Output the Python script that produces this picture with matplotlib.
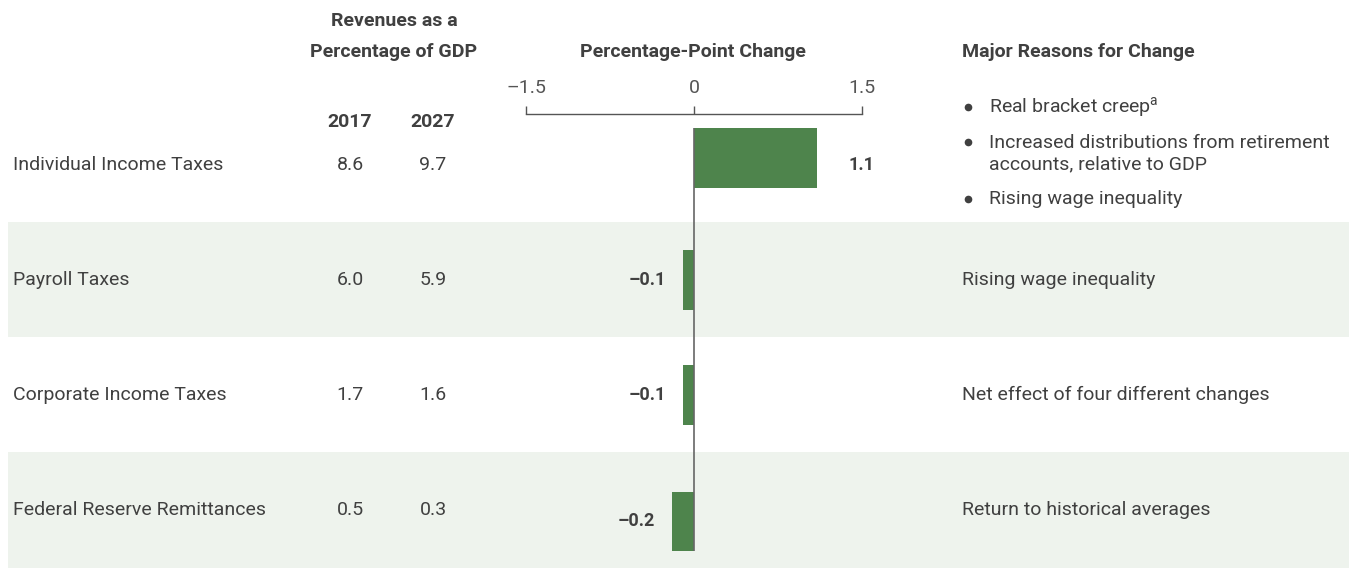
import matplotlib
matplotlib.use("Agg")
import matplotlib.pyplot as plt

plt.rcParams['font.family'] = ['Roboto', 'DejaVu Sans']
plt.rcParams['mathtext.fontset'] = 'custom'
plt.rcParams['mathtext.rm'] = 'Roboto'

categories = ['Individual Income Taxes', 'Payroll Taxes', 'Corporate Income Taxes',
              'Federal Reserve Remittances']
rev_2017 = [8.6, 6.0, 1.7, 0.5]
rev_2027 = [9.7, 5.9, 1.6, 0.3]
change = [1.1, -0.1, -0.1, -0.2]
change_labels = ['1.1', '\u20130.1', '\u20130.1', '\u20130.2']
reasons = [None, 'Rising wage inequality', 'Net effect of four different changes',
           'Return to historical averages']
bullets = ['Real bracket creep$^\\mathrm{a}$',
           'Increased distributions from retirement\naccounts, relative to GDP',
           'Rising wage inequality']
ticks = [-1.5, 0, 1.5]
tick_labels = ['\u20131.5', '0', '1.5']

W, H = 1349, 568
txt = '#404040'
green = '#4e844c'
band = '#eef3ed'
# small vertical shifts of the bars within their rows (layout)
bar_shift = [-0.06, 0.0, 0.0, 0.10]

fig = plt.figure(figsize=(W / 100, H / 100), dpi=100)

# background axes, rows in index units (row center px = 165 + 115*i)
bg = fig.add_axes([0, 0, 1, 1])
bg.set_xlim(0, 1)
bg.set_ylim((H - 165) / 115, -165 / 115)
bg.axis('off')
for i in range(len(categories)):
    if i % 2 == 1:
        bg.axhspan(i - 0.5, i + 0.5, xmin=8 / W, xmax=1, color=band, lw=0, zorder=0)
    bg.text(13 / W, i, categories[i], ha='left', va='center', fontsize=14, color=txt)
    bg.text(350 / W, i, f'{rev_2017[i]:.1f}', ha='center', va='center', fontsize=14, color=txt)
    bg.text(433 / W, i, f'{rev_2027[i]:.1f}', ha='center', va='center', fontsize=14, color=txt)
    if reasons[i]:
        bg.text(962 / W, i, reasons[i], ha='left', va='center', fontsize=14, color=txt)

# bulleted reasons for first row
bullet_y = [-0.50, -0.10, 0.30]
for b, y in zip(bullets, bullet_y):
    first_line = y - 0.104 if '\n' in b else y
    bg.plot([968 / W], [first_line], marker='o', ms=5.5, color=txt, mew=0)
    bg.text(989 / W, y, b, ha='left', va='center', fontsize=14, color=txt, linespacing=1.2)

# headers
def ftext(xp, yp, s, **kw):
    fig.text(xp / W, 1 - yp / H, s, fontsize=14, color=txt, fontweight='bold', va='center', **kw)

ftext(394, 21, 'Revenues as a', ha='center')
ftext(394, 52, 'Percentage of GDP', ha='center')
ftext(693, 52, 'Percentage-Point Change', ha='center')
ftext(962, 52, 'Major Reasons for Change', ha='left')
ftext(350, 122, '2017', ha='center')
ftext(433, 122, '2027', ha='center')

# bar axes
ax = fig.add_axes([526 / W, 0, 336 / W, (H - 114) / H])
ax.patch.set_alpha(0)
ax.set_xlim(-1.5, 1.5)
ax.set_ylim((H - 165) / 115, (114 - 165) / 115)
bh = 0.52
ypos = [i + s for i, s in enumerate(bar_shift)]
ax.barh(ypos, change, height=bh, color=green, zorder=2)
ax.vlines(0, ypos[0] - bh / 2, ypos[-1] + bh / 2, color='#666666', lw=1.2, zorder=3)
for y, v, lab in zip(ypos, change, change_labels):
    if v >= 0:
        ax.text(1.5, y + 0.06, lab, ha='center', va='center', fontsize=13, fontweight='bold', color=txt)
    else:
        ax.annotate(lab, (v, y), xytext=(-12, 0), textcoords='offset points',
                    ha='right', va='center', fontsize=13, fontweight='bold', color=txt)

for s in ['left', 'right', 'bottom']:
    ax.spines[s].set_visible(False)
ax.spines['top'].set_color('#555555')
ax.spines['top'].set_linewidth(1.0)
ax.xaxis.tick_top()
ax.set_xticks(ticks)
ax.set_xticklabels(tick_labels)
ax.tick_params(axis='x', direction='out', length=6, width=1.0, color='#555555',
               labelsize=14, labelcolor='#555555', pad=6)
ax.set_yticks([])

fig.savefig('out.png', dpi=100)
